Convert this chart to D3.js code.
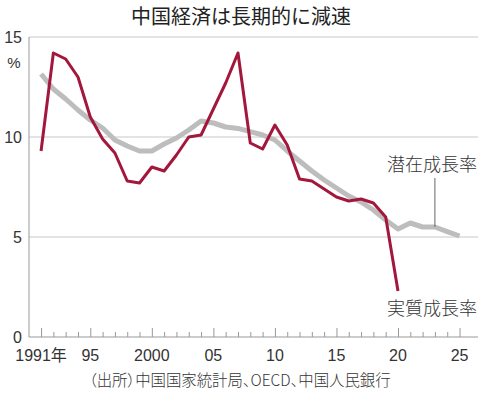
<!DOCTYPE html>
<html>
<head>
<meta charset="utf-8">
<script src="https://cdn.jsdelivr.net/npm/d3@7"></script>
<style>
  body { margin: 0; background: #fff; }
  text { font-family: "Noto Sans CJK JP", "Liberation Sans", sans-serif; fill: #333; }
</style>
</head>
<body>
<div id="chart"></div>
<script>
var svgWidth = 484;
var svgHeight = 394;

var margin = { top: 37, right: 6, bottom: 57, left: 29 };
var width = svgWidth - margin.left - margin.right;
var height = svgHeight - margin.top - margin.bottom;

// data
var years = d3.range(1991, 2026);
var realGrowth = [9.3, 14.2, 13.9, 13.0, 11.0, 9.9, 9.2, 7.8, 7.7, 8.5,
  8.3, 9.1, 10.0, 10.1, 11.4, 12.7, 14.2, 9.7, 9.4, 10.6,
  9.6, 7.9, 7.8, 7.4, 7.0, 6.8, 6.9, 6.7, 6.0, 2.3];
var potentialGrowth = [13.15, 12.4, 11.9, 11.35, 10.85, 10.45, 9.85, 9.55, 9.3, 9.3,
  9.65, 9.95, 10.35, 10.8, 10.7, 10.5, 10.43, 10.27, 10.1, 9.85,
  9.3, 8.8, 8.3, 7.85, 7.45, 7.05, 6.75, 6.35, 5.85, 5.4,
  5.7, 5.5, 5.5, 5.27, 5.05];
var yTicks = [0, 5, 10, 15];
var xMajor = [1991, 1995, 2000, 2005, 2010, 2015, 2020, 2025];
var xLabels = ["1991年", "95", "2000", "05", "10", "15", "20", "25"];

var svg = d3.select("#chart")
  .append("svg")
  .attr("width", svgWidth)
  .attr("height", svgHeight);

svg.append("text")
  .attr("x", 241)
  .attr("y", 24)
  .attr("text-anchor", "middle")
  .style("font-size", "20px")
  .style("font-weight", "400")
  .style("fill", "#222")
  .text("中国経済は長期的に減速");

var chartGroup = svg.append("g")
  .attr("transform", `translate(${margin.left}, ${margin.top})`);

var x = d3.scaleLinear().domain([1990.02, 2026.5]).range([0, width]);
var y = d3.scaleLinear().domain([0, 15]).range([height, 0]);

// gridlines
chartGroup.selectAll(".grid")
  .data(yTicks.filter(d => d > 0))
  .enter()
  .append("line")
  .attr("x1", 0)
  .attr("x2", width)
  .attr("y1", d => y(d))
  .attr("y2", d => y(d))
  .attr("stroke", "#c8c8c8")
  .attr("stroke-width", 1);

// y axis line
chartGroup.append("line")
  .attr("x1", 0).attr("x2", 0)
  .attr("y1", 0).attr("y2", height)
  .attr("stroke", "#999");

// x axis
var bottomAxis = d3.axisBottom(x)
  .tickValues(years)
  .tickSize(0)
  .tickFormat("");
var xAxis = chartGroup.append("g")
  .attr("transform", `translate(0, ${height})`)
  .call(bottomAxis);
xAxis.select(".domain").attr("stroke", "#999").attr("d", `M0,0H${width}`);
xAxis.selectAll(".tick line")
  .attr("stroke", "#999")
  .attr("y2", d => xMajor.indexOf(d) >= 0 ? -9 : -5);

chartGroup.selectAll(".xlabel")
  .data(xMajor)
  .enter()
  .append("text")
  .attr("x", d => x(d))
  .attr("y", height + 24)
  .attr("text-anchor", "middle")
  .style("font-size", "16px")
  .style("font-family", "'Liberation Sans', 'Noto Sans CJK JP', sans-serif")
  .text((d, i) => xLabels[i]);

chartGroup.selectAll(".ylabel")
  .data(yTicks)
  .enter()
  .append("text")
  .attr("x", -7)
  .attr("y", d => y(d) + 6)
  .attr("text-anchor", "end")
  .style("font-size", "16px")
  .style("font-family", "'Liberation Sans', sans-serif")
  .text(d => d);

chartGroup.append("text")
  .attr("x", -15)
  .attr("y", y(15) + 31)
  .attr("text-anchor", "middle")
  .style("font-size", "15px")
  .style("font-family", "'Liberation Sans', sans-serif")
  .text("%");

var line = d3.line()
  .x(d => x(d[0]))
  .y(d => y(d[1]));

chartGroup.append("path")
  .datum(years.map((yr, i) => [yr, potentialGrowth[i]]))
  .attr("d", line)
  .attr("fill", "none")
  .attr("stroke", "#bdbdbd")
  .attr("stroke-width", 5)
  .attr("stroke-linejoin", "round");

chartGroup.append("path")
  .datum(realGrowth.map((v, i) => [years[i], v]))
  .attr("d", line)
  .attr("fill", "none")
  .attr("stroke", "#a3173d")
  .attr("stroke-width", 3)
  .attr("stroke-linejoin", "round");

// labels
chartGroup.append("line")
  .attr("x1", x(2023)).attr("x2", x(2023))
  .attr("y1", 178 - margin.top)
  .attr("y2", y(potentialGrowth[2023 - 1991]))
  .attr("stroke", "#666");

chartGroup.append("text")
  .attr("x", 477 - margin.left)
  .attr("y", 171 - margin.top)
  .attr("text-anchor", "end")
  .style("font-size", "18px")
  .style("font-weight", "300")
  .text("潜在成長率");

chartGroup.append("text")
  .attr("x", 477 - margin.left)
  .attr("y", 315 - margin.top)
  .attr("text-anchor", "end")
  .style("font-size", "18px")
  .style("font-weight", "300")
  .text("実質成長率");

svg.append("text")
  .attr("x", 89)
  .attr("y", 386)
  .style("font-size", "15.4px")
  .style("font-weight", "300")
  .style("font-feature-settings", "'palt'")
  .text("（出所）中国国家統計局、OECD、中国人民銀行");
</script>
</body>
</html>
